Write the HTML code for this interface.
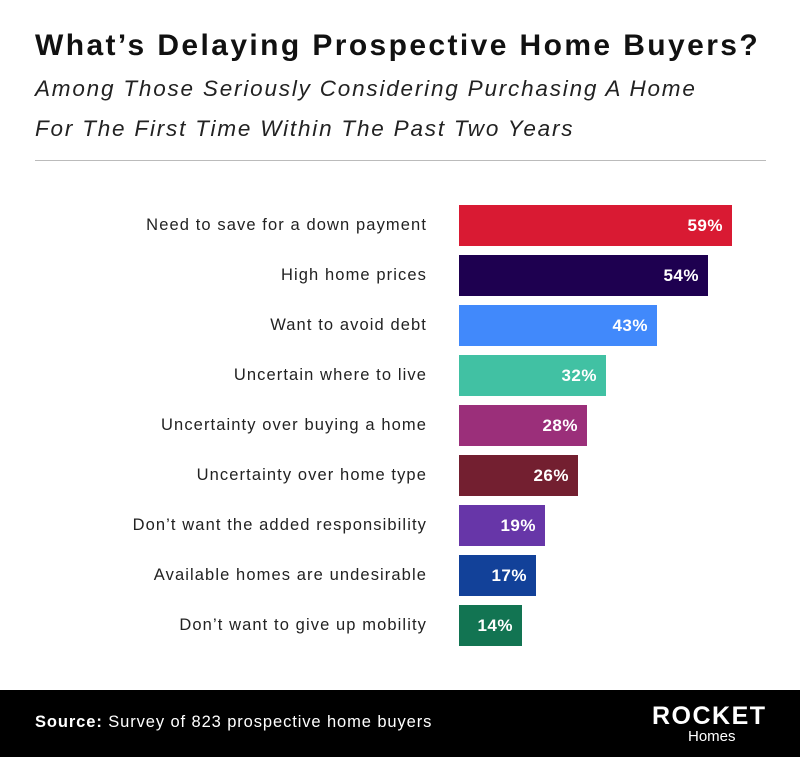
<!DOCTYPE html>
<html><head><style>
body{margin:0;width:800px;height:757px;background:#fff;font-family:"Liberation Sans",sans-serif;position:relative;overflow:hidden}
.t{position:absolute;left:35px;top:29px;font-size:30px;font-weight:bold;color:#111;letter-spacing:2.4px;white-space:nowrap}
.s{position:absolute;left:35px;font-size:22.5px;font-style:italic;color:#222;letter-spacing:1.8px;white-space:nowrap}
.hr{position:absolute;left:35px;width:731px;top:160px;height:1px;background:#bbb}
.l{position:absolute;right:373px;font-size:16.5px;color:#222;line-height:41px;white-space:nowrap;letter-spacing:1.1px}
.b{position:absolute;left:459px;height:41px;color:#fff;font-weight:bold;font-size:17px;line-height:41px;text-align:right;box-sizing:border-box;padding-right:9px;letter-spacing:0.5px}
.f{position:absolute;left:0;top:690px;width:800px;height:67px;background:#000;color:#fff}
</style></head><body>
<div class="t">What’s Delaying Prospective Home Buyers?</div>
<div class="s" style="top:76px">Among Those Seriously Considering Purchasing A Home</div>
<div class="s" style="top:116px">For The First Time Within The Past Two Years</div>
<div class="hr"></div>

<div class="l" style="top:205px">Need to save for a down payment</div>
<div class="b" style="top:205px;width:273px;background:#d91a33">59%</div>
<div class="l" style="top:255px">High home prices</div>
<div class="b" style="top:255px;width:249px;background:#1e0050">54%</div>
<div class="l" style="top:305px">Want to avoid debt</div>
<div class="b" style="top:305px;width:198px;background:#4189fb">43%</div>
<div class="l" style="top:355px">Uncertain where to live</div>
<div class="b" style="top:355px;width:147px;background:#41c1a3">32%</div>
<div class="l" style="top:405px">Uncertainty over buying a home</div>
<div class="b" style="top:405px;width:128px;background:#9b2f7a">28%</div>
<div class="l" style="top:455px">Uncertainty over home type</div>
<div class="b" style="top:455px;width:119px;background:#731f30">26%</div>
<div class="l" style="top:505px">Don’t want the added responsibility</div>
<div class="b" style="top:505px;width:86px;background:#6736a8">19%</div>
<div class="l" style="top:555px">Available homes are undesirable</div>
<div class="b" style="top:555px;width:77px;background:#124199">17%</div>
<div class="l" style="top:605px">Don’t want to give up mobility</div>
<div class="b" style="top:605px;width:63px;background:#127452">14%</div>

<div class="f">
<div style="position:absolute;left:35px;top:23px;font-size:16.5px;letter-spacing:0.9px"><b>Source:</b> Survey of 823 prospective home buyers</div>
<div style="position:absolute;left:652px;top:12px;font-size:25px;font-weight:bold;letter-spacing:1.5px">ROCKET</div>
<div style="position:absolute;left:688px;top:38px;font-size:15px">Homes</div>
</div>
</body></html>
